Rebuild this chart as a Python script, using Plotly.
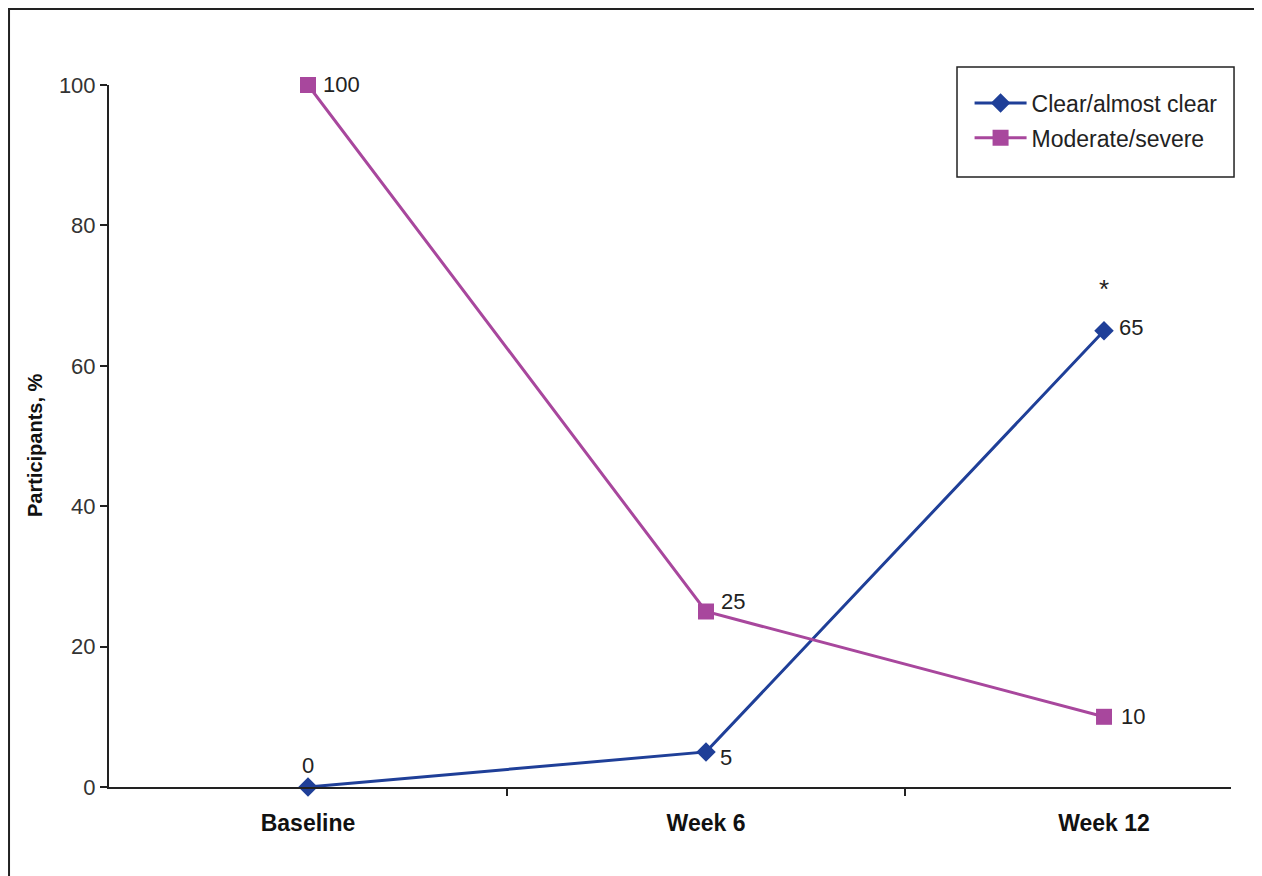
import plotly.graph_objects as go

categories = ["Baseline", "Week 6", "Week 12"]
clear_vals = [0, 5, 65]
moderate_vals = [100, 25, 10]
clear_name = "Clear/almost clear"
moderate_name = "Moderate/severe"
significance = ["", "", "*"]
y_ticks = [0, 20, 40, 60, 80, 100]
y_title = "Participants, %"

# label offsets (px) relative to each marker: (xshift, yshift, xanchor)
clear_label_pos = [(0, 22, "center"), (12, -6, "left"), (13, 3, "left")]
moderate_label_pos = [(13, 1, "left"), (13, 10, "left"), (15, 0, "left")]

BLUE = "#1F3F98"
MAGENTA = "#A8479D"
FONT = "Liberation Sans, Arial, sans-serif"
xpos = list(range(len(categories)))

fig = go.Figure()
fig.add_trace(go.Scatter(
    x=xpos, y=clear_vals, name=clear_name, mode="lines+markers",
    line=dict(color=BLUE, width=3),
    marker=dict(symbol="diamond", size=15, color=BLUE),
    legendgroup="a", cliponaxis=False,
))
fig.add_trace(go.Scatter(
    x=xpos, y=moderate_vals, name=moderate_name, mode="lines+markers",
    line=dict(color=MAGENTA, width=3),
    marker=dict(symbol="square", size=16, color=MAGENTA),
    legendgroup="b", cliponaxis=False,
))
# dummy trace to activate label axis
fig.add_trace(go.Scatter(x=xpos, y=[None] * len(xpos), xaxis="x2", showlegend=False,
                         hoverinfo="skip"))

label_font = dict(size=22, color="#222", family=FONT)
for vals, pos in ((clear_vals, clear_label_pos), (moderate_vals, moderate_label_pos)):
    for i, v in enumerate(vals):
        xs, ys, xa = pos[i]
        fig.add_annotation(x=xpos[i], y=v, text=str(v), showarrow=False,
                           xanchor=xa, yanchor="middle", xshift=xs, yshift=ys,
                           font=label_font)

for i, s in enumerate(significance):
    if s:
        fig.add_annotation(x=xpos[i], y=clear_vals[i], text=s, showarrow=False,
                           yshift=42, font=dict(size=26, color="#222", family=FONT))

# y-axis title
fig.add_annotation(xref="paper", yref="paper", x=-0.066, y=0.487,
                   text="<b>%s</b>" % y_title, textangle=-90, showarrow=False,
                   xanchor="center", yanchor="middle",
                   font=dict(size=20, color="#111", family=FONT))

xr = [-0.5, 2.319]
fig.update_layout(
    width=1254, height=868,
    margin=dict(l=101, r=31, t=77, b=89, autoexpand=False),
    paper_bgcolor="white", plot_bgcolor="white",
    font=dict(family=FONT, color="#222"),
    showlegend=True,
    legend=dict(x=0.767, y=1.005, xanchor="left", yanchor="top",
                borderwidth=0, bgcolor="rgba(0,0,0,0)",
                font=dict(size=23, color="#222", family=FONT),
                itemwidth=52, tracegroupgap=2),
    xaxis=dict(range=xr, tickvals=[0.5, 1.5], ticktext=["", ""], ticks="outside",
               ticklen=7, tickwidth=1.5, tickcolor="#222", showline=True,
               linecolor="#222", linewidth=2, showgrid=False, zeroline=False),
    xaxis2=dict(range=xr, overlaying="x", side="bottom", tickvals=xpos,
                ticktext=["<b>%s</b>" % c for c in categories], ticks="outside",
                ticklen=15, tickcolor="rgba(0,0,0,0)", showline=False,
                showgrid=False, zeroline=False,
                tickfont=dict(size=23, color="#111", family=FONT)),
    yaxis=dict(range=[0, 100], tickvals=y_ticks, ticks="outside", ticklen=7,
               tickwidth=1.5, tickcolor="#222", showline=True, linecolor="#222",
               linewidth=2, showgrid=False, zeroline=False,
               tickfont=dict(size=22, color="#333", family=FONT)),
)
# outer frame
fig.add_shape(type="rect", xref="paper", yref="paper",
              x0=-0.0891, y0=-0.3, x1=1.2, y1=1.1083,
              line=dict(color="#222", width=2), layer="below")
# legend box
fig.add_shape(type="rect", xref="paper", yref="paper",
              x0=0.7558, y0=0.869, x1=1.0027, y1=1.0256,
              line=dict(color="#222", width=1.5), fillcolor="white", layer="below")

fig.write_html("out.html")
